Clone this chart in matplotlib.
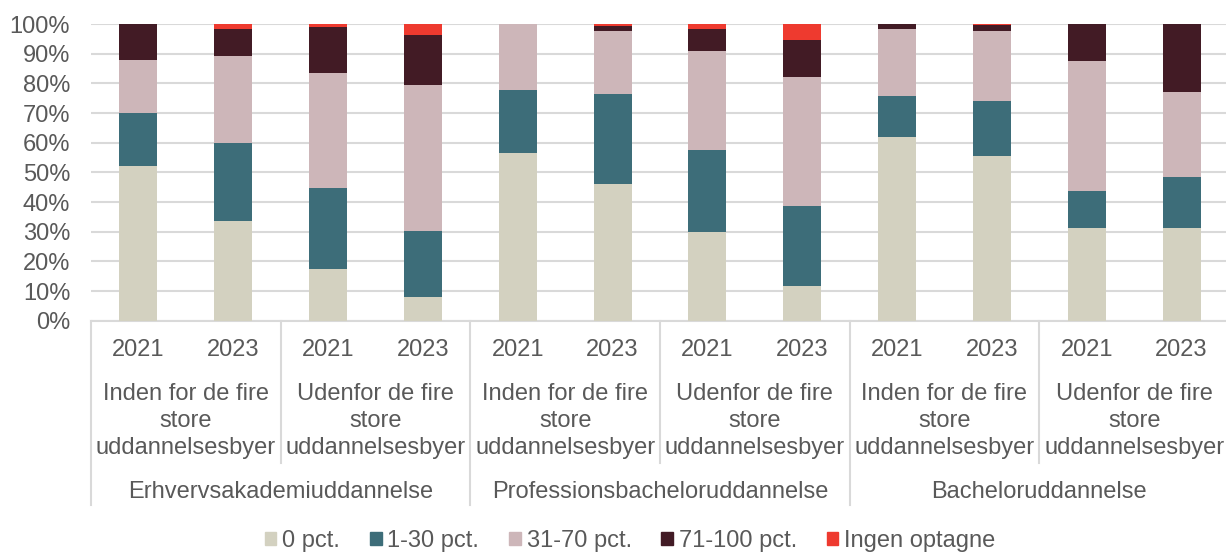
import matplotlib.pyplot as plt
from matplotlib.patches import Patch
import numpy as np

plt.rcParams['font.family'] = ['Liberation Sans', 'DejaVu Sans']

years = ["2021", "2023"] * 6
groups = ["Inden for de fire\nstore\nuddannelsesbyer",
          "Udenfor de fire\nstore\nuddannelsesbyer"] * 3
types = ["Erhvervsakademiuddannelse", "Professionsbacheloruddannelse",
         "Bacheloruddannelse"]

series = ["0 pct.", "1-30 pct.", "31-70 pct.", "71-100 pct.", "Ingen optagne"]
p0 = [52.2, 33.7, 17.5, 8.0, 56.4, 46.0, 29.8, 11.7, 62.0, 55.4, 31.1, 31.3]
p1_30 = [17.8, 26.2, 27.3, 22.4, 21.4, 30.5, 27.7, 27.1, 13.7, 18.8, 12.5, 17.2]
p31_70 = [18.0, 29.3, 38.6, 48.9, 22.2, 21.1, 33.4, 43.3, 22.5, 23.4, 43.9, 28.6]
p71_100 = [12.0, 9.2, 15.6, 17.1, 0.0, 1.6, 7.5, 12.6, 1.8, 2.1, 12.5, 22.9]
ingen = [0.0, 1.6, 1.0, 3.6, 0.0, 0.8, 1.6, 5.3, 0.0, 0.3, 0.0, 0.0]

colors = ["#d3d1c0", "#3d6d79", "#cdb6b9", "#421b25", "#ee3a2f"]
text_col = "#595959"
line_col = "#d9d9d9"

fig = plt.figure(figsize=(12.26, 5.53), dpi=100)
ax = fig.add_axes([91 / 1226, 1 - 320.7 / 553, 1138 / 1226, 296.7 / 553])

x = np.arange(len(years))
bottom = np.zeros(len(years))
for vals, col in zip([p0, p1_30, p31_70, p71_100, ingen], colors):
    ax.bar(x, vals, width=0.4, bottom=bottom, color=col, zorder=3)
    bottom += np.array(vals)

ax.set_xlim(-0.5, 11.5)
ax.set_ylim(0, 100)
ax.set_yticks(range(0, 101, 10))
ax.set_yticklabels([f"{v}%" for v in range(0, 101, 10)], fontsize=17, color=text_col)
ax.yaxis.grid(True, color=line_col, linewidth=1.5, zorder=0)
ax.tick_params(axis="y", length=0, pad=15)
ax.set_xticks([])
for s in ["top", "right", "left"]:
    ax.spines[s].set_visible(False)
ax.spines["bottom"].set_color(line_col)
ax.spines["bottom"].set_linewidth(1.5)

tr = ax.get_xaxis_transform()
# year labels
for xi, yr in zip(x, years):
    ax.text(xi, -0.099, yr, ha="center", va="center", fontsize=17,
            color=text_col, transform=tr)
# group labels
for i, g in enumerate(groups):
    ax.text(2 * i + 0.5, -0.338, g, ha="center", va="center", fontsize=17,
            color=text_col, transform=tr, linespacing=1.27)
# type labels
for i, t in enumerate(types):
    ax.text(4 * i + 1.5, -0.577, t, ha="center", va="center", fontsize=17,
            color=text_col, transform=tr)

# separators
for b in range(0, 12, 2):
    low = -0.621 if b % 4 == 0 else -0.48
    ax.plot([b - 0.5, b - 0.5], [0, low], color=line_col, linewidth=1.5,
            transform=tr, clip_on=False)

handles = [Patch(color=c) for c in colors]
fig.legend(handles, series, loc="center", bbox_to_anchor=(0.514, 1 - 541 / 553),
           ncol=5, frameon=False, fontsize=17, handlelength=0.5,
           handleheight=0.5, handletextpad=0.25, columnspacing=1.25,
           labelcolor=text_col)

plt.savefig("out.png", dpi=100)
